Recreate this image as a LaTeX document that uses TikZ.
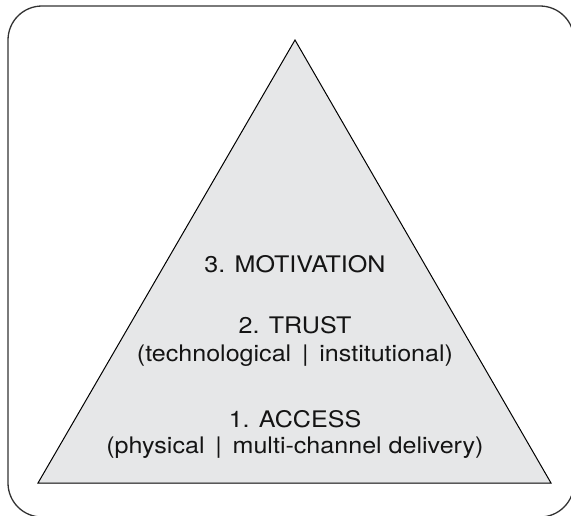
\documentclass[tikz,border=0pt]{standalone}
\usepackage{fontspec}
\setmainfont{TeX Gyre Heros}[FakeStretch=1.1]
\definecolor{pyrfill}{RGB}{230,231,232}
\definecolor{framecol}{RGB}{50,50,50}
\begin{document}
\begin{tikzpicture}[x=1pt,y=-1pt,
  levellabel/.style={anchor=base,inner sep=0pt,font=\fontsize{22.8}{27}\selectfont,text=black!92}]
\useasboundingbox (0,0) rectangle (571,515);
% outer frame
\draw[framecol,line width=1.3pt,rounded corners=34pt] (8,6) rectangle (574,517);
% pyramid
\coordinate (apex) at (295,40);
\coordinate (bl) at (38,483);
\coordinate (br) at (551,483);
\draw[fill=pyrfill,line width=1pt,line join=miter] (apex) -- (br) -- (bl) -- cycle;
% level labels
\node[levellabel] (motivation) at (295,272) {3. MOTIVATION};
\node[levellabel] (trust) at (295,333) {2. TRUST};
\node[levellabel] (trustsub) at (295,361) {(technological \,|\, institutional)};
\node[levellabel] (access) at (295,427) {1. ACCESS};
\node[levellabel] (accesssub) at (295,453) {(physical \,|\, multi-channel delivery)};
\end{tikzpicture}
\end{document}
